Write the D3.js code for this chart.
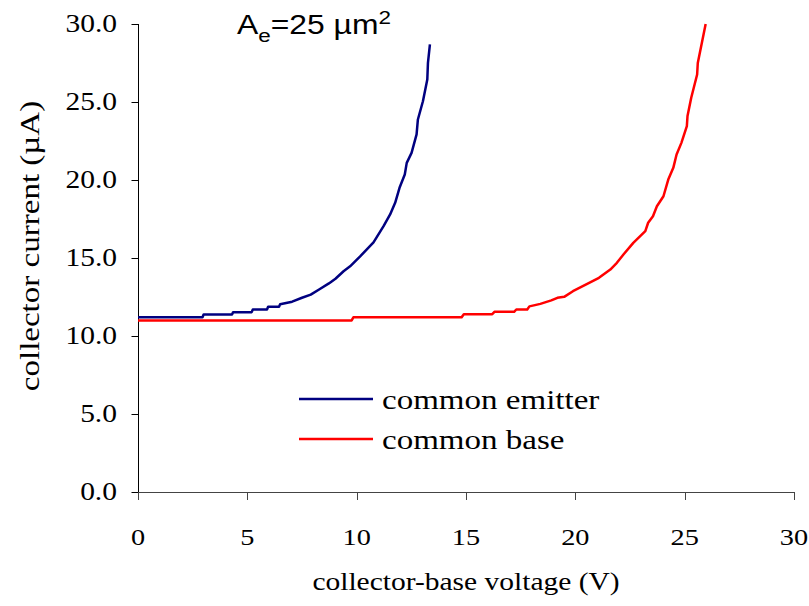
<!DOCTYPE html>
<html>
<head>
<meta charset="utf-8">
<script src="https://cdn.jsdelivr.net/npm/d3@7"></script>
<style>
  body { margin:0; background:#fff; }
  svg { display:block; }
</style>
</head>
<body>
<svg id="plot" width="809" height="606"></svg>
<script>
// collector current vs collector-base voltage
const xTicks = [0, 5, 10, 15, 20, 25, 30];
const yTicks = [0, 5, 10, 15, 20, 25, 30];

const emitterV = [0, 2.95, 3.0, 4.3, 4.35, 5.2, 5.25, 5.9, 5.95, 6.45, 6.5, 7.05, 7.5, 7.9, 8.3, 8.73, 9.03, 9.4, 9.7, 10.17, 10.77, 11.23, 11.53, 11.76, 11.96, 12.2, 12.29, 12.51, 12.74, 12.8, 13.03, 13.23, 13.26, 13.35];
const emitterI = [11.2, 11.2, 11.38, 11.38, 11.53, 11.53, 11.7, 11.7, 11.87, 11.87, 12.04, 12.2, 12.45, 12.65, 13.0, 13.37, 13.67, 14.15, 14.47, 15.12, 16.0, 17.04, 17.79, 18.54, 19.5, 20.35, 21.1, 21.74, 22.92, 23.88, 25.05, 26.44, 27.51, 28.69];

const baseV = [0, 9.77, 9.85, 14.8, 14.9, 16.2, 16.3, 17.2, 17.3, 17.8, 17.9, 18.4, 18.9, 19.18, 19.49, 19.89, 20.34, 20.7, 21.08, 21.6, 21.9, 22.2, 22.65, 23.2, 23.33, 23.55, 23.73, 24.03, 24.25, 24.48, 24.63, 24.85, 25.1, 25.13, 25.3, 25.57, 25.6, 25.96];
const baseI = [11.0, 11.0, 11.2, 11.2, 11.4, 11.4, 11.55, 11.55, 11.7, 11.7, 11.9, 12.06, 12.28, 12.45, 12.51, 12.87, 13.19, 13.45, 13.73, 14.26, 14.69, 15.22, 15.97, 16.72, 17.26, 17.68, 18.32, 18.96, 20.03, 20.78, 21.63, 22.38, 23.45, 24.1, 25.27, 26.76, 27.5, 30.0];

const seriesNames = ['common emitter', 'common base'];
const seriesColors = ['#000080', '#ff0000'];

const svg = d3.select('#plot');
const margin = {top:24, left:138};
const w = 656, h = 468;
const serif = '"Liberation Serif", "Times New Roman", serif';
const stretch = 1.18; // text in the reference is wider than tall

const g = svg.append('g').attr('transform', `translate(${margin.left},${margin.top})`);

const x = d3.scaleLinear().domain([0, 30]).range([0, w]);
const y = d3.scaleLinear().domain([0, 30]).range([h, 0]);

// helper: text stretched along its own length
function label(parent, tx, ty, str, size, anchor, family, rot){
  const t = parent.append('g')
    .attr('transform', `translate(${tx},${ty})` + (rot ? ` rotate(${rot})` : '') + ` scale(${stretch},1)`)
    .append('text')
    .attr('text-anchor', anchor)
    .style('font-family', family || serif)
    .style('font-size', size + 'px')
    .attr('fill', '#000');
  t.text(str);
  return t;
}

// y axis
const ya = g.append('g').attr('transform', 'translate(0.5,0)');
ya.append('line').attr('x1',0).attr('x2',0).attr('y1',y(30)).attr('y2',y(0)).attr('stroke','#000');
yTicks.forEach(v => {
  ya.append('line').attr('x1',-7).attr('x2',0).attr('y1',Math.round(y(v))+0.5).attr('y2',Math.round(y(v))+0.5).attr('stroke','#000');
  label(g, -21, y(v) + 8, d3.format('.1f')(v), 25, 'end');
});

// x axis
const xa = g.append('g').attr('transform', `translate(0,${h})`);
xa.append('line').attr('x1',0).attr('x2',w).attr('y1',0.5).attr('y2',0.5).attr('stroke','#444');
xTicks.forEach(v => {
  xa.append('line').attr('x1',Math.round(x(v))+0.5).attr('x2',Math.round(x(v))+0.5).attr('y1',0).attr('y2',8).attr('stroke','#444');
  label(g, x(v), h + 53, String(v), 24, 'middle');
});

// axis titles
label(svg, 466, 590, 'collector-base voltage (V)', 25, 'middle');
label(svg, 39, 246, 'collector current (µA)', 28, 'middle', serif, -90);

// curves
const line = d3.line().x(d => x(d[0])).y(d => y(d[1]));
const series = [
  d3.zip(emitterV, emitterI),
  d3.zip(baseV, baseI)
];
series.forEach((pts, i) => {
  g.append('path').datum(pts)
    .attr('d', line)
    .attr('fill', 'none')
    .attr('stroke', seriesColors[i])
    .attr('stroke-width', 2.5)
    .attr('stroke-linejoin', 'round');
});

// legend
seriesNames.forEach((name, i) => {
  const ly = 399 + i * 40;
  svg.append('line').attr('x1', 299).attr('x2', 373).attr('y1', ly).attr('y2', ly)
    .attr('stroke', seriesColors[i]).attr('stroke-width', 2.5);
  label(svg, 382, ly + 10, name, 28, 'start');
});

// emitter area note
const note = label(svg, 237, 34, '', 27, 'start', '"Liberation Sans", Arial, sans-serif');
note.append('tspan').text('A');
note.append('tspan').attr('dy', 8).style('font-size', '19px').text('e');
note.append('tspan').attr('dy', -8).text('=25 µm');
note.append('tspan').attr('dy', -10).style('font-size', '19px').text('2');
</script>
</body>
</html>
